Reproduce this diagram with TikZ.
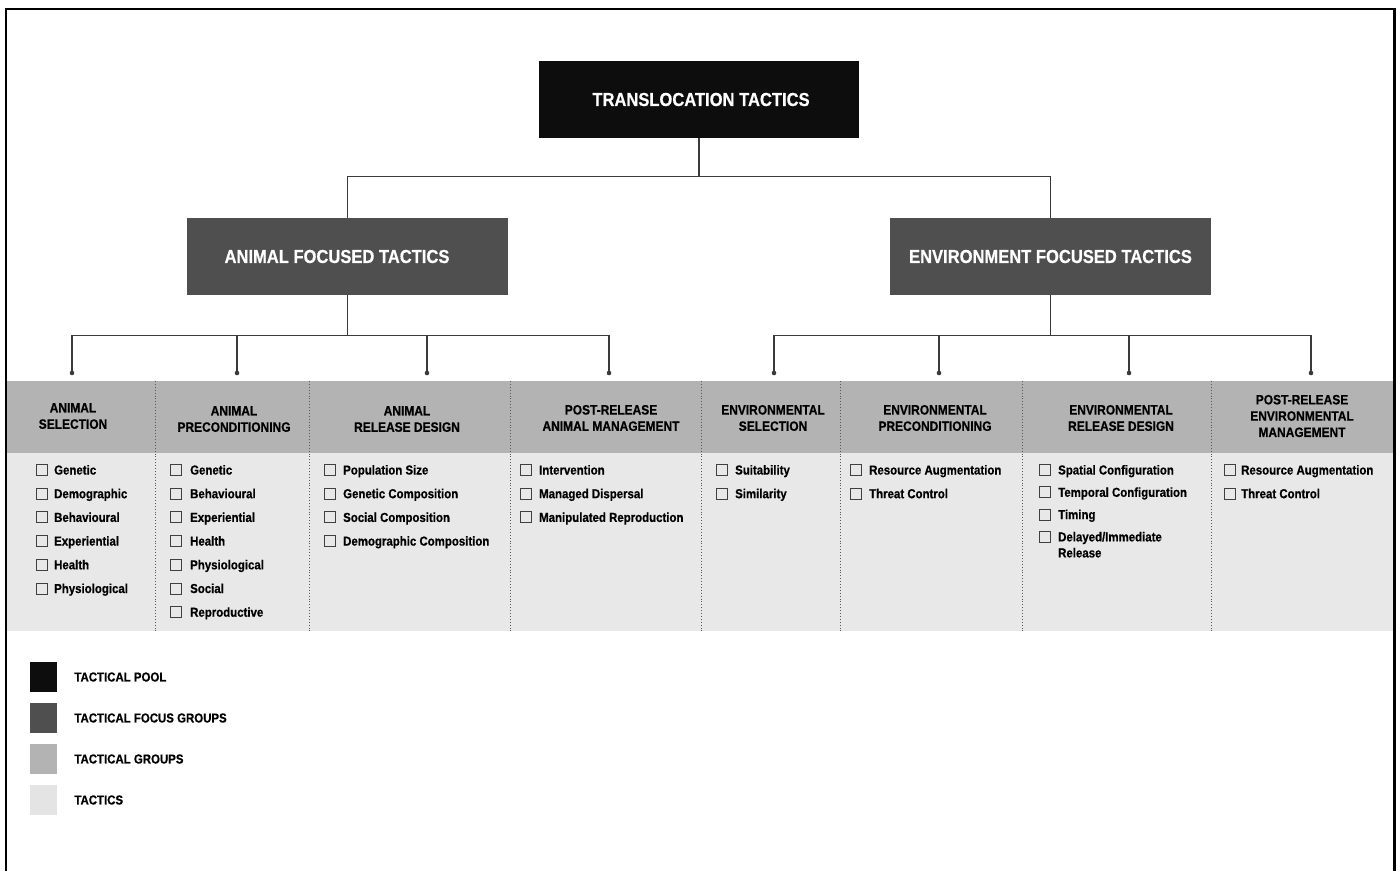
\documentclass[tikz,border=0pt]{standalone}
\usepackage{fontspec}
\setmainfont{Liberation Sans}[FakeStretch=0.88, BoldFeatures={FakeBold=0.6}]
\usepackage{tikz}
\usetikzlibrary{positioning}
\definecolor{poolblack}{HTML}{0D0D0D}
\definecolor{focusgray}{HTML}{4F4F4F}
\definecolor{groupgray}{HTML}{B3B3B3}
\definecolor{tacticgray}{HTML}{E8E8E8}
\definecolor{legendlight}{HTML}{E4E4E4}
\definecolor{linkgray}{HTML}{3A3A3A}
\newcommand{\bfsize}[2]{\fontsize{#1}{#2}\selectfont\bfseries}

\begin{document}
\begin{tikzpicture}[x=1pt, y=-1pt,
    pool/.style={fill=poolblack, text=white, font=\bfsize{18.8}{22}, minimum width=320, minimum height=77},
    focus/.style={fill=focusgray, text=white, font=\bfsize{18.8}{22}, minimum width=321, minimum height=77},
    grouphead/.style={font=\bfsize{13.6}{16.3}, align=center, inner sep=0},
    tactic/.style={font=\bfsize{13}{16}, anchor=base west, inner sep=0},
    tick/.style={draw=black!75, line width=0.9, minimum size=11, inner sep=0},
    link/.style={draw=linkgray, line width=1.2},
    sep/.style={draw=black!65, dotted, line width=0.9},
    swatch/.style={minimum width=27, minimum height=30, inner sep=0},
    legendtext/.style={font=\bfsize{13}{16}, anchor=west, inner sep=0}
]
\useasboundingbox (0,0) rectangle (1400,871);

% bands behind the group headers and the tactics
\fill[groupgray] (6,381) rectangle (1394,453);
\fill[tacticgray] (6,453) rectangle (1394,631);
\foreach \x in {155,309,510,701,840,1022,1211}
    \draw[sep] (\x,381) -- (\x,631);

% frame
\draw[line width=2] (6,871) -- (6,9) -- (1394,9);
\draw[line width=3] (1394,8) -- (1394,871);

% tactical pool and focus groups
\node[pool] (root) at (699,99.5) {\kern4pt TRANSLOCATION TACTICS};
\node[focus] (anifocus) at (347.5,256.5) {ANIMAL FOCUSED TACTICS\kern21pt};
\node[focus] (envfocus) at (1050.5,256.5) {ENVIRONMENT FOCUSED TACTICS};

\draw[link] (root.south) -- ++(0,38) -| (anifocus.north);
\draw[link] (root.south) -- ++(0,38) -| (envfocus.north);

% tactical groups
\foreach \c/\x/\y/\txt in {1/73/416/{ANIMAL\\SELECTION},
        2/234/419/{ANIMAL\\PRECONDITIONING},
        3/407/419/{ANIMAL\\RELEASE DESIGN},
        4/611/418/{POST-RELEASE\\ANIMAL MANAGEMENT},
        5/773/418/{ENVIRONMENTAL\\SELECTION},
        6/935/418/{ENVIRONMENTAL\\PRECONDITIONING},
        7/1121/418/{ENVIRONMENTAL\\RELEASE DESIGN},
        8/1302/416/{POST-RELEASE\\ENVIRONMENTAL\\MANAGEMENT}}
    \node[grouphead] (g\c) at (\x,\y) {\txt};

\foreach \c/\x in {1/72,2/237,3/427,4/609,5/774,6/939,7/1129,8/1311}
    \coordinate (d\c) at (\x,373);
\foreach \c in {1,...,4}
    \draw[link] (anifocus.south) -- ++(0,40) -| (d\c);
\foreach \c in {5,...,8}
    \draw[link] (envfocus.south) -- ++(0,40) -| (d\c);
\foreach \c in {1,...,8}
    \fill[linkgray] (d\c) circle (2.3);

% tactics with check boxes
\foreach \c/\bx/\tx/\dy/\items in {
        1/41.5/54/23.7/{Genetic,Demographic,Behavioural,Experiential,Health,Physiological},
        2/175.5/190/23.7/{Genetic,Behavioural,Experiential,Health,Physiological,Social,Reproductive},
        3/329.5/343/23.7/{Population Size,Genetic Composition,Social Composition,Demographic Composition},
        4/525.5/539/23.7/{Intervention,Managed Dispersal,Manipulated Reproduction},
        5/721.5/735/23.7/{Suitability,Similarity},
        6/855.5/869/23.7/{Resource Augmentation,Threat Control},
        7/1044.5/1058/22.3/{Spatial Configuration,Temporal Configuration,Timing,
            {\vtop{\hbox{Delayed/Immediate}\hbox{Release}}}},
        8/1229.5/1241/23.7/{Resource Augmentation,Threat Control}}
    \foreach \t [count=\i] in \items {
        \node[tick] (b\c-\i) at (\bx,{470+\dy*(\i-1)}) {};
        \node[tactic] (t\c-\i) at (\tx,{474.5+\dy*(\i-1)}) {\t};
    };

% legend
\node[swatch, fill=poolblack] (sw1) at (43.5,677) {};
\node[swatch, fill=focusgray] (sw2) at (43.5,718) {};
\node[swatch, fill=groupgray] (sw3) at (43.5,759) {};
\node[swatch, fill=legendlight] (sw4) at (43.5,800) {};
\node[legendtext, right=17pt of sw1] (lg1) {TACTICAL POOL};
\node[legendtext, right=17pt of sw2] (lg2) {TACTICAL FOCUS GROUPS};
\node[legendtext, right=17pt of sw3] (lg3) {TACTICAL GROUPS};
\node[legendtext, right=17pt of sw4] (lg4) {TACTICS};
\end{tikzpicture}
\end{document}
